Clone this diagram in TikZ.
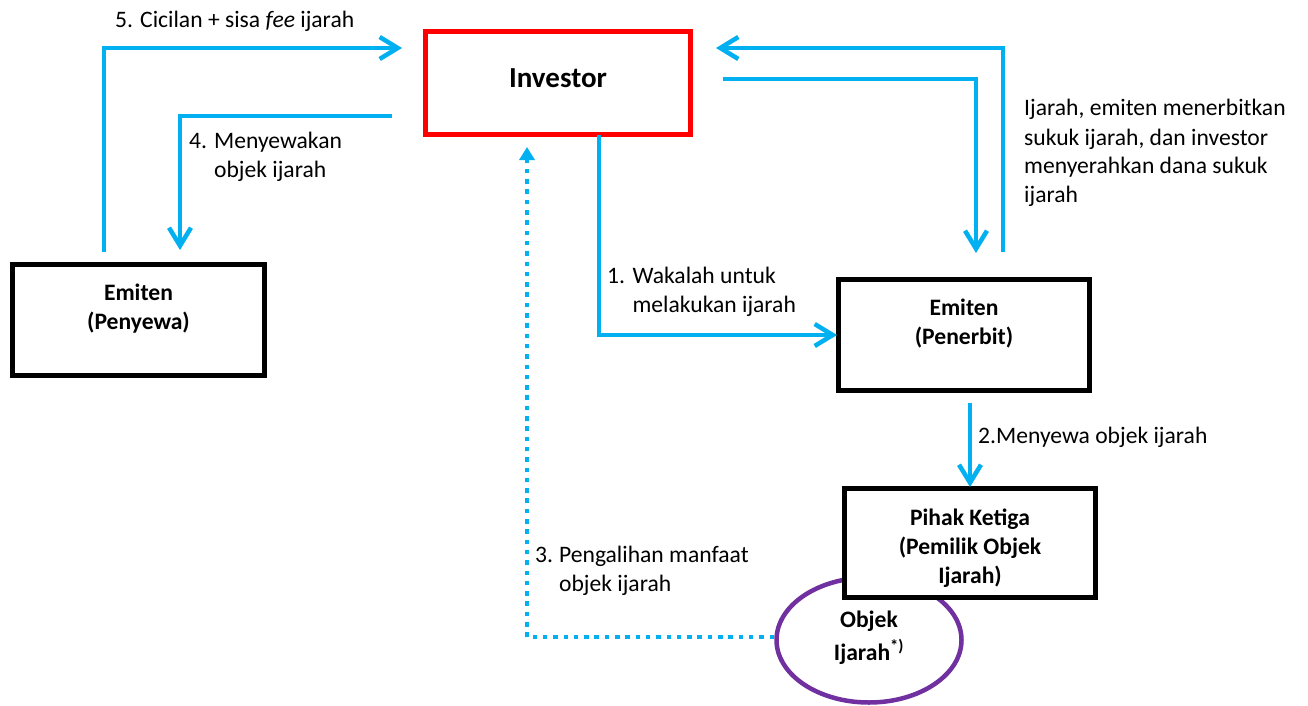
\documentclass[tikz,border=0pt]{standalone}
\usepackage{fontspec}
\setmainfont{Carlito}
\usetikzlibrary{arrows.meta,shapes.geometric}
\definecolor{flow}{HTML}{00B0F0}
\definecolor{invred}{HTML}{FF0000}
\definecolor{objpurple}{HTML}{7030A0}

\begin{document}
\begin{tikzpicture}[x=1pt,y=-1pt,
  txt/.style={font=\fontsize{23.6}{29}\selectfont, inner sep=0pt, anchor=base west},
  boxtxt/.style={font=\bfseries\fontsize{23.6}{29}\selectfont, inner sep=0pt, anchor=base},
  party/.style={draw=black, line width=5pt, fill=white, rectangle, inner sep=0pt, outer sep=0pt},
  flowline/.style={draw=flow, line width=4.5pt, -{Straight Barb[length=18pt,width=22pt]}},
  benefit/.style={draw=flow, line width=4.5pt, line cap=butt, dash pattern=on 4.5pt off 5.8pt,
                  -{Triangle[length=13pt,width=15pt]}}
]
\useasboundingbox (0,0) rectangle (1308,706);

% underlying asset (drawn first, partly covered by the owner box)
\node[draw=objpurple, line width=4.5pt, ellipse, minimum width=185pt, minimum height=125pt,
      inner sep=0pt] (objek) at (869,640) {};

% parties
\node[party, draw=invred, minimum width=265pt, minimum height=103pt] (inv) at (558,83) {};
\node[party, minimum width=252pt, minimum height=111pt] (sewa) at (138.5,320) {};
\node[party, minimum width=251pt, minimum height=111pt] (terbit) at (964,335) {};
\node[party, minimum width=251pt, minimum height=109pt] (pihak) at (970,543) {};

% box texts
\node[boxtxt, font=\bfseries\fontsize{29}{35}\selectfont] (invT) at (558,88) {Investor};
\node[boxtxt] (sewaT) at (138.5,300) {\begin{tabular}[t]{@{}c@{}}Emiten\\(Penyewa)\end{tabular}};
\node[boxtxt] (terbitT) at (964,315) {\begin{tabular}[t]{@{}c@{}}Emiten\\(Penerbit)\end{tabular}};
\node[boxtxt] (pihakT) at (970,525) {\begin{tabular}[t]{@{}c@{}}Pihak Ketiga\\(Pemilik Objek\\Ijarah)\end{tabular}};
\node[boxtxt] (objekT) at (869,627) {\begin{tabular}[t]{@{}c@{}}Objek\\[4pt]Ijarah\textsuperscript{*)}\end{tabular}};

% connector end points
\coordinate (c5s) at (104,252);
\coordinate (c5e) at (402,48);
\coordinate (c4s) at (392,116);
\coordinate (c4e) at (180,250);
\coordinate (cRs) at (1003,252);
\coordinate (cRe) at (716,48);
\coordinate (cQs) at (723,79);
\coordinate (cQe) at (976,253);
\coordinate (c1s) at (599,135);
\coordinate (c1e) at (837,335);
\coordinate (c2s) at (970,403);
\coordinate (c2e) at (970,487);
\coordinate (c3s) at (774,637);
\coordinate (c3e) at (527,147);

% flows
\draw[flowline] (c5s) |- (c5e);
\draw[flowline] (c4s) -| (c4e);
\draw[flowline] (cRs) |- (cRe);
\draw[flowline] (cQs) -| (cQe);
\draw[flowline] (c1s) |- (c1e);
\draw[flowline] (c2s) -- (c2e);
\draw[benefit] (c3s) -| (c3e);

% flow labels
\node[txt] (l5) at (115,28) {5. Cicilan + sisa \textit{fee} ijarah};
\node[txt] (l4) at (189,148) {\begin{tabular}[t]{@{}l@{\hspace{7pt}}l@{}}4. & Menyewakan\\ & objek ijarah\end{tabular}};
\node[txt] (lR) at (1024,116) {\begin{tabular}[t]{@{}l@{}}Ijarah, emiten menerbitkan\\sukuk ijarah, dan investor\\menyerahkan dana sukuk\\ijarah\end{tabular}};
\node[txt] (l1) at (607,283) {\begin{tabular}[t]{@{}l@{\hspace{7.5pt}}l@{}}1. & Wakalah untuk\\ & melakukan ijarah\end{tabular}};
\node[txt] (l2) at (978,443) {2.Menyewa objek ijarah};
\node[txt] (l3) at (535,562) {\begin{tabular}[t]{@{}l@{\hspace{6pt}}l@{}}3. & Pengalihan manfaat\\ & objek ijarah\end{tabular}};
\end{tikzpicture}
\end{document}
